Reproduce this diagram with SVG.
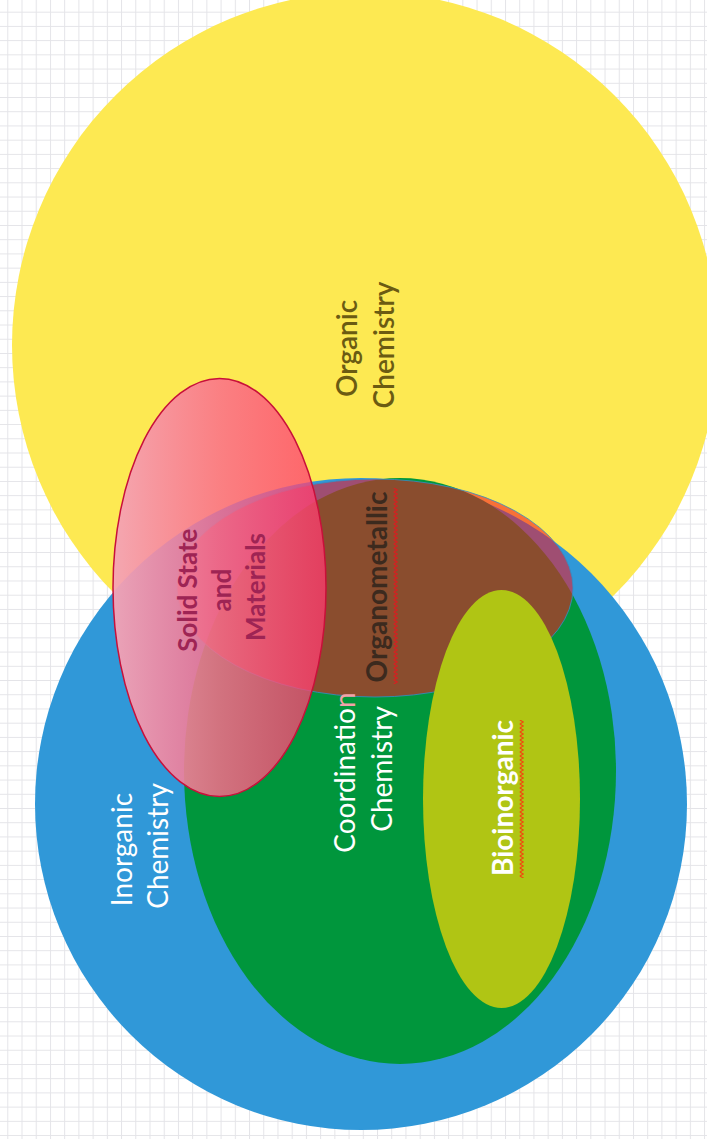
<svg xmlns="http://www.w3.org/2000/svg" width="707" height="1139" viewBox="0 0 707 1139">
  <style>
    .lbl { font-family: Lato, "Liberation Sans", sans-serif; font-size: 28px; text-anchor: middle; }
    .w { fill: #FFFFFF; }
  </style>
  <defs>
    <pattern id="grid" patternUnits="userSpaceOnUse" x="7.3" y="11.7" width="14.22" height="14.22">
      <path d="M0 0.5 H14.22 M0.5 0 V14.22" stroke="#E4E4E8" stroke-width="1" fill="none"/>
    </pattern>
    <linearGradient id="pinkGrad" x1="0" y1="0" x2="1" y2="0">
      <stop offset="0" stop-color="#F4A4B6" stop-opacity="0.95"/>
      <stop offset="0.5" stop-color="#FA6C8C" stop-opacity="0.84"/>
      <stop offset="1" stop-color="#FF3A6E" stop-opacity="0.76"/>
    </linearGradient>
    <pattern id="wavyRed" patternUnits="userSpaceOnUse" x="393" y="488" width="5" height="4">
      <path d="M0.8 0 L4.2 2 L0.8 4" stroke="#D42020" stroke-width="1.3" fill="none"/>
    </pattern>
    <pattern id="wavyOrange" patternUnits="userSpaceOnUse" x="519" y="720" width="5" height="4">
      <path d="M0.8 0 L4.2 2 L0.8 4" stroke="#F04A10" stroke-width="1.3" fill="none"/>
    </pattern>
  </defs>

  <rect x="0" y="0" width="707" height="1139" fill="#FFFFFF"/>
  <rect x="0" y="0" width="707" height="1139" fill="url(#grid)"/>

  <g id="organic">
    <circle cx="365" cy="345" r="353" fill="#FDE952"/>
  </g>
  <g id="inorganic">
    <circle cx="361" cy="804" r="326" fill="#3098D8"/>
  </g>
  <g id="coordination">
    <ellipse cx="400" cy="771" rx="216" ry="293" fill="#00963C"/>
  </g>
  <g id="organometallic">
    <ellipse cx="375" cy="588" rx="198" ry="109" fill="#F51523" fill-opacity="0.565" stroke="#3090C8" stroke-width="1" stroke-opacity="0.8"/>
  </g>
  <g id="bioinorganic">
    <ellipse cx="501.5" cy="799" rx="78.5" ry="209" fill="#B0C514"/>
  </g>
  <g id="solid-state">
    <ellipse cx="219.5" cy="587.5" rx="106.5" ry="209" fill="url(#pinkGrad)" stroke="#C8103A" stroke-width="1.5"/>
  </g>

  <g id="connectors"></g>

  <g id="labels">
    <text class="lbl" transform="translate(357,345) rotate(-90)" fill="#6B5B12" font-weight="600">
      <tspan x="0" y="0">Organic</tspan>
      <tspan x="0" y="37">Chemistry</tspan>
    </text>
    <text class="lbl" transform="translate(197,587) rotate(-90)" fill="#9E2454" font-weight="700" style="font-size:26px">
      <tspan x="0" y="0">Solid State</tspan>
      <tspan x="0" y="34">and</tspan>
      <tspan x="0" y="68">Materials</tspan>
    </text>
    <text class="lbl" transform="translate(387,587) rotate(-90)" fill="#3C2A1E" font-weight="700">Organometallic</text>
    <rect x="393" y="488" width="5" height="196" fill="url(#wavyRed)"/>
    <text class="lbl w" transform="translate(355,769) rotate(-90)">
      <tspan x="0" y="0">Coordinatio<tspan fill="#F2A2AA">n</tspan></tspan>
      <tspan x="0" y="37">Chemistry</tspan>
    </text>
    <text class="lbl w" transform="translate(132,846) rotate(-90)">
      <tspan x="0" y="0">Inorganic</tspan>
      <tspan x="0" y="36">Chemistry</tspan>
    </text>
    <text class="lbl w" transform="translate(513,798) rotate(-90)" font-weight="700">Bioinorganic</text>
    <rect x="519" y="720" width="5" height="158" fill="url(#wavyOrange)"/>
  </g>
</svg>
